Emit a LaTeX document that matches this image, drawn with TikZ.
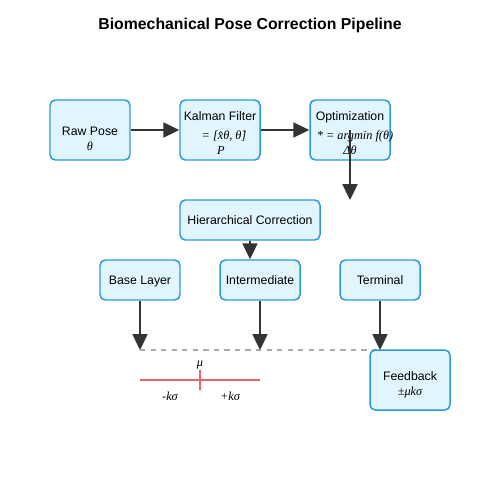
\documentclass[tikz,border=0pt]{standalone}
\usepackage{fontspec}
\setmainfont{Liberation Sans}
\newfontfamily\mathserif{Liberation Serif}
\definecolor{boxfill}{HTML}{E1F5FE}
\definecolor{boxline}{HTML}{2B9AD8}
\definecolor{arrowdark}{HTML}{333333}
\definecolor{bandred}{HTML}{E86666}
\definecolor{dashgray}{HTML}{AAAAAA}
\usetikzlibrary{arrows.meta, positioning}

\newcommand{\mvar}[1]{{\mathserif\itshape #1}}

\begin{document}
\begin{tikzpicture}[x=0.02cm, y=-0.02cm,
    stage/.style={draw=boxline, fill=boxfill, line width=0.85pt,
      rounded corners=3pt, align=center, inner sep=0pt,
      text height=0.66em, text depth=0.2em,
      font=\fontsize{7}{8.5}\selectfont},
    flow/.style={-{Triangle[length=9pt, width=8.5pt]}, arrowdark,
      line width=1.1pt},
    mlabel/.style={font=\fontsize{7}{8.5}\selectfont, inner sep=0pt,
      text height=0.72em, text depth=0.2em}]
  \useasboundingbox (0,0) rectangle (500,500);
  % Title
  \node[font=\fontsize{9}{11}\selectfont\bfseries, text height=0.72em,
    text depth=0.2em, inner sep=0pt] (title) at (250,25)
    {Biomechanical Pose Correction Pipeline};
  % Top row
  \node[stage, minimum width=80*0.02cm, minimum height=60*0.02cm] (raw)
    at (90,130) {};
  \node[mlabel] (rawtitle) at (90,131) {Raw Pose};
  \node[mlabel] (rawangle) at (90,146) {\mvar{θ}};
  \node[stage, minimum width=80*0.02cm, minimum height=60*0.02cm] (kalman)
    at (220,130) {};
  \node[mlabel] (kalmantitle) at (220,116) {Kalman Filter};
  \node[mlabel] (kalmanstate) at (224,135) {\mvar{= [x̂θ, θ̇]}};
  \node[mlabel] (kalmancov) at (221,150) {\mvar{P}};
  \node[stage, minimum width=80*0.02cm, minimum height=60*0.02cm] (optim)
    at (350,130) {};
  \node[mlabel] (optimtitle) at (350,116) {Optimization};
  \node[mlabel] (optimgoal) at (355,135) {\mvar{* = argmin f(θ)}};
  \node[mlabel] (optimstep) at (350,150) {\mvar{Δθ}};
  \draw[flow] (raw) -- (kalman);
  \draw[flow] (kalman) -- (optim);
  % Hierarchy
  \node[stage, minimum width=140*0.02cm, minimum height=40*0.02cm] (hier)
    at (250,220) {Hierarchical Correction};
  \coordinate (optimdrop) at (350,200);
  \draw[flow] (optim.center) -- (optimdrop);
  \node[stage, minimum width=80*0.02cm, minimum height=40*0.02cm] (base)
    at (140,280) {Base Layer};
  \node[stage, minimum width=80*0.02cm, minimum height=40*0.02cm] (inter)
    at (260,280) {Intermediate};
  \node[stage, minimum width=80*0.02cm, minimum height=40*0.02cm] (term)
    at (380,280) {Terminal};
  \draw[flow] (hier.south) -- (hier.south |- inter.north);
  % Drops to the bound line
  \coordinate (basedrop) at (140,350);
  \coordinate (interdrop) at (260,350);
  \coordinate (termdrop) at (380,350);
  \draw[dashgray, dashed, line width=0.7pt] (basedrop) -- (termdrop);
  \draw[flow] (base) -- (basedrop);
  \draw[flow] (inter) -- (interdrop);
  \draw[flow] (term) -- (termdrop);
  % Tolerance band
  \coordinate (bandleft) at (140,380);
  \coordinate (bandright) at (260,380);
  \coordinate (tickup) at (200,370);
  \coordinate (tickdown) at (200,390);
  \draw[bandred, line width=0.8pt] (bandleft) -- (bandright);
  \draw[bandred, line width=0.8pt] (tickup) -- (tickdown);
  \node[mlabel] (mean) at (200,362) {\mvar{μ}};
  \node[mlabel] (lower) at (170,396) {\mvar{-kσ}};
  \node[mlabel] (upper) at (230,396) {\mvar{+kσ}};
  % Feedback
  \node[stage, minimum width=80*0.02cm, minimum height=60*0.02cm] (feed)
    at (410,380) {};
  \node[mlabel] (feedtitle) at (410,376) {Feedback};
  \node[mlabel] (feedbound) at (410,391) {\mvar{±μkσ}};
\end{tikzpicture}
\end{document}
